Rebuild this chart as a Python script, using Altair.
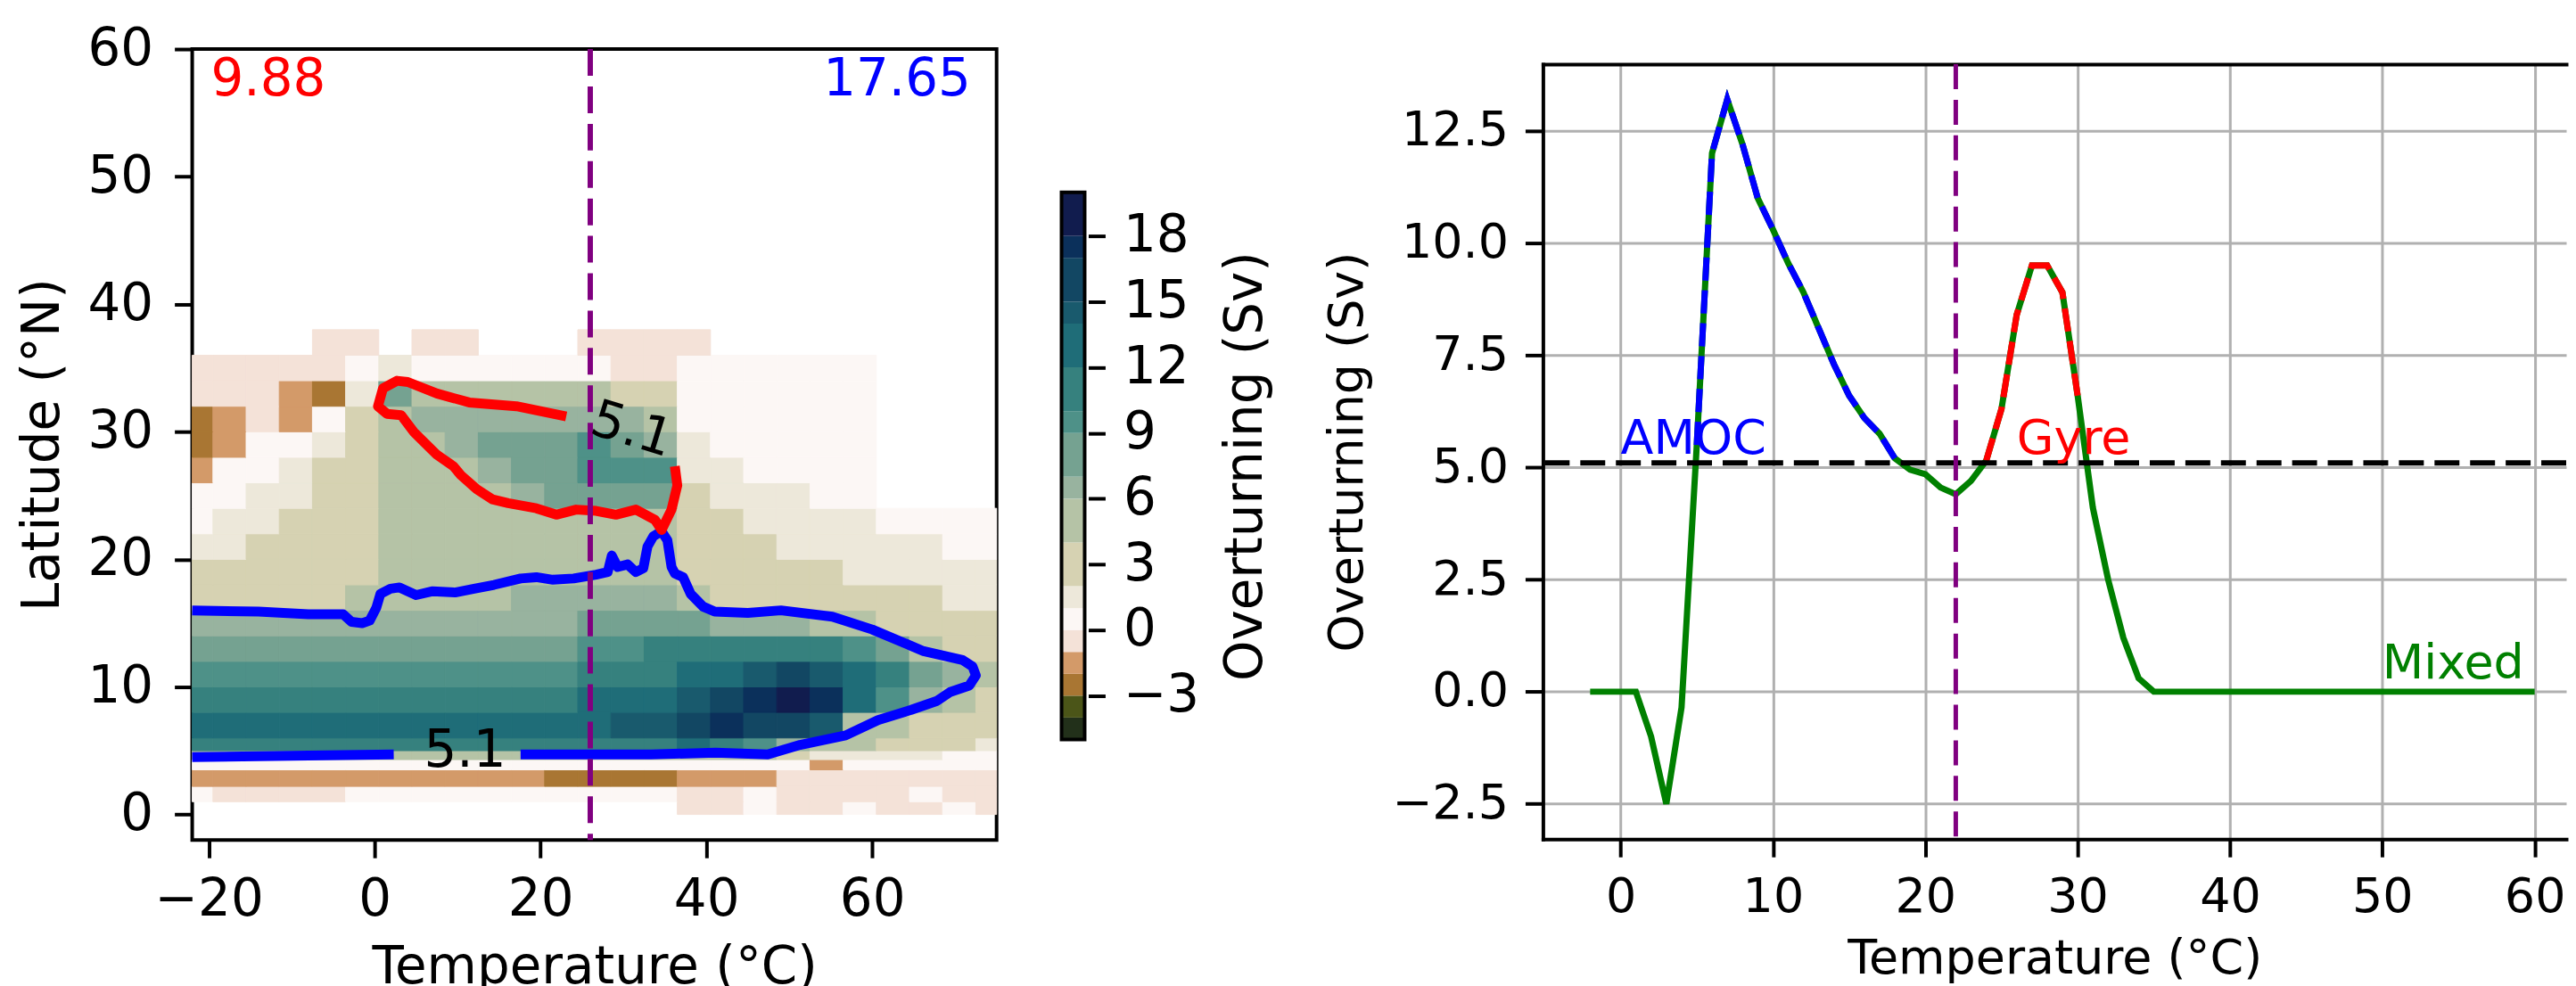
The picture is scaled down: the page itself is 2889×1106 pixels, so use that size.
import altair as alt
import pandas as pd

# ---------------- left panel: overturning field (Sv) on temperature x latitude ----------------
T_EDGES = [-22, -19.5, -15.5, -11.5, -7.5, -3.5, 0.5, 4.5, 8.5, 12.5, 16.5, 20.5, 24.5,
           28.5, 32.5, 36.5, 40.5, 44.5, 48.5, 52.5, 56.5, 60.5, 64.5, 68.5, 72.5, 75]
LAT_EDGES = [0, 1, 2.2, 3.5, 4.3, 5, 6, 8, 10, 12, 14, 16, 18, 20, 22, 24, 26, 28, 30, 32, 34, 36, 38]
N = None
PSI = [
    [N, N, N, N, N, N, N, N, N, N, N, N, N, N, N, -0.5, -0.5, 0.5, -0.5, -0.5, 0.5, -0.5, -0.5, 0.5, -0.5],
    [0.5, -0.5, -0.5, -0.5, -0.5, 0.5, 0.5, 0.5, 0.5, 0.5, 0.5, 0.5, 0.5, 0.5, 0.5, -0.5, -0.5, 0.5, -0.5, -0.5, -0.5, -0.5, 0.5, -0.5, -0.5],
    [-1.5, -1.5, -1.5, -1.5, -1.5, -1.5, -1.5, -1.5, -1.5, -1.5, -1.5, -2.3, -2.3, -2.3, -2.3, -1.5, -1.5, -1.5, -0.5, -0.5, -0.5, -0.5, -0.5, -0.5, -0.5],
    [0.5, 0.5, 0.5, 0.5, 0.5, 0.5, 0.5, 0.5, 0.5, 0.5, 0.5, 0.5, 0.5, 0.5, 0.5, 0.5, 0.5, 0.5, 0.5, -1.5, 0.5, 0.5, 0.5, 0.5, 0.5],
    [4.5, 4.5, 4.5, 4.5, 4.5, 4.5, 4.5, 4.5, 4.5, 4.5, 4.5, 4.5, 4.5, 4.5, 4.5, 4.5, 4.5, 4.5, 2.5, 1.5, 1.5, 1, 1, 0.5, 0.5],
    [11, 11, 11, 11, 11, 11, 11.5, 11.5, 11.5, 11.5, 11.5, 11.5, 11.5, 11.5, 11.5, 12, 11.5, 9, 6, 5, 4, 3, 2.5, 2, 1.5],
    [12.5, 12.5, 12.5, 12.5, 12.5, 12.5, 13, 13, 13, 13, 13, 13, 13.5, 14, 14.5, 16, 17.5, 15.5, 16.5, 14, 5.5, 4, 3.5, 3, 2.5],
    [11.5, 11.5, 11.5, 11.5, 11.5, 11.5, 11.5, 11.5, 11.5, 11.5, 11.5, 11.5, 12.5, 13, 13.5, 14.5, 15.5, 17, 18.5, 17.5, 13, 9, 6.5, 4.5, 3],
    [9.5, 9.5, 9.5, 9.5, 9.5, 9.5, 9.8, 9.8, 9.8, 9.8, 9.8, 9.8, 10.5, 11, 11.5, 12.5, 13, 14, 15, 14, 12, 10, 8, 6, 4],
    [8, 8, 8, 8, 8, 8, 8.5, 8.5, 8.5, 8.5, 8.5, 8.5, 9, 9.5, 10, 10, 10.5, 11, 11, 10.5, 9, 7, 5, 3.5, 3],
    [6.5, 6.5, 6.5, 6.5, 6.5, 6.5, 6.5, 6.5, 6.5, 6.5, 6.5, 6.5, 7, 7, 7.5, 7.5, 6.5, 6.5, 6.5, 5.5, 4.5, 3.5, 3, 2.5, 2.5],
    [3.5, 3.5, 3.5, 3.5, 3.5, 4, 5.5, 5.5, 5.5, 5.5, 6, 6, 6, 6, 6, 4.5, 3, 3, 3, 2.5, 2.5, 2.5, 2, 1.5, 1.5],
    [3, 3, 3, 3, 3.5, 3.5, 4.8, 4.8, 4.8, 5, 5.3, 5.3, 5.3, 5.5, 5.5, 3.5, 3, 3, 2.5, 2.5, 1.5, 1.5, 1.5, 1.5, 1.5],
    [1.5, 1.5, 3, 3, 3, 3.5, 4.8, 4.8, 4.8, 4.8, 4.8, 4.8, 4.8, 5, 5.3, 3, 3, 2.5, 1.5, 1.5, 1.5, 1.5, 1.5, 0.5, 0.5],
    [0.5, 1.5, 1.5, 3, 3, 3.5, 4.8, 4.8, 4.8, 4.8, 4.8, 5, 5, 5.2, 5.5, 3, 2.5, 1.5, 1.5, 1.5, 1.5, 0.5, 0.5, 0.5, 0.5],
    [0.5, 0.5, 1.5, 1.5, 3, 3.5, 4.8, 4.8, 4.8, 5.5, 6, 7, 7.5, 8, 8, 3, 1.5, 1.5, 1.5, 0.5, 0.5, N, N, N, N],
    [-1.5, 0.5, 0.5, 1.5, 3, 3.5, 4.8, 4.8, 5.5, 6.5, 7.5, 8.5, 9.5, 9.5, 9.2, 1.5, 1.5, 0.5, 0.5, 0.5, 0.5, N, N, N, N],
    [-2.5, -1.5, 0.5, 0.5, 1.5, 3.5, 4.8, 5.5, 6.5, 7.5, 8, 8.5, 9.5, 8.5, 6.5, 1.5, 0.5, 0.5, 0.5, 0.5, 0.5, N, N, N, N],
    [-2.5, -1.5, -0.5, -1.5, 0.5, 3, 5.5, 6.5, 6.5, 6.5, 6.5, 6.5, 6.5, 6, 4.5, 0.5, 0.5, 0.5, 0.5, 0.5, 0.5, N, N, N, N],
    [-0.5, -0.5, -0.5, -1.5, -2.5, 1.5, 7, 5.5, 4.5, 4.5, 4, 4, 4, 3.5, 2.5, 0.5, 0.5, 0.5, 0.5, 0.5, 0.5, N, N, N, N],
    [-0.5, -0.5, -0.5, -0.5, -0.5, 0.5, 1.5, 0.5, 0.5, 0.5, 0.5, 0.5, 0.5, -0.5, -0.5, 0.5, 0.5, 0.5, 0.5, 0.5, 0.5, N, N, N, N],
    [N, N, N, N, -0.5, -0.5, N, -0.5, -0.5, N, N, N, -0.5, -0.5, -0.5, -0.5, N, N, N, N, N, N, N, N, N],
]

# colour bar levels and colours
BOUNDS = [-5, -4, -3, -2, -1, 0, 1, 2, 4, 6, 7, 9, 10, 12, 14, 15, 17, 18, 20]
COLORS = ["#22301a", "#4b5518", "#a97633", "#d39a69", "#f4e2d8", "#fcf7f5", "#ede8da", "#d6d2b2",
          "#b5c3a6", "#98b39f", "#75a291", "#4e9188", "#36817e", "#1f6d78", "#195a6d", "#124763",
          "#0b305b", "#111c4e"]
CB_TICKS = [-3, 0, 3, 6, 9, 12, 15, 18]

# 5.1 Sv contours
BLUE_LOW_T = [-22.0, -10.0, 2.3]
BLUE_LOW_L = [4.5, 4.6, 4.7]
BLUE_MAIN_T = [17.6, 33.3, 41.1, 47.4, 51.3, 56.8, 60.7, 64.7, 67.8, 69.4, 71.7, 72.5, 72.1, 70.9, 66.2,
               60.0, 55.2, 49.0, 45.0, 41.0, 39.6, 38.1, 37.2, 36.2, 35.8, 35.3, 34.6, 33.6, 32.9, 32.4,
               31.5, 30.5, 29.3, 28.6, 28.1, 26.7, 24.0, 21.5, 19.5, 17.6, 14.4, 12.0, 9.7, 7.0, 5.0,
               3.0, 1.9, 0.7, 0.2, -0.6, -1.5, -2.8, -3.8, -8.0, -14.0, -22.0]
BLUE_MAIN_L = [4.7, 4.7, 4.85, 4.7, 5.45, 6.2, 7.4, 8.2, 8.9, 9.6, 10.1, 10.9, 11.6, 12.1, 12.8,
               14.5, 15.5, 16.0, 15.8, 15.9, 16.3, 17.3, 18.6, 18.9, 19.4, 21.5, 22.2, 21.8, 21.0, 19.3,
               19.0, 19.6, 19.4, 20.3, 19.0, 18.8, 18.5, 18.4, 18.6, 18.5, 18.0, 17.7, 17.4, 17.5, 17.2,
               17.8, 17.7, 17.3, 16.2, 15.2, 15.0, 15.1, 15.7, 15.7, 15.9, 16.0]
RED_T = [23.1, 17.1, 11.4, 7.5, 4.0, 2.7, 1.0, 0.4, 1.5, 3.2, 4.7, 7.5, 9.5, 10.4, 12.3, 14.2, 16.1,
         19.5, 21.9, 24.3, 26.7, 29.1, 31.5, 33.8, 34.6, 35.8, 36.5, 36.2]
RED_L = [31.2, 32.0, 32.3, 33.0, 33.9, 34.0, 33.4, 32.0, 31.4, 31.3, 30.0, 28.2, 27.3, 26.6, 25.5, 24.7,
         24.4, 24.0, 23.5, 23.9, 23.8, 23.5, 23.9, 23.1, 22.3, 23.9, 25.8, 27.3]
CLABEL_LOW = (10.9, 4.94)
CLABEL_UP = (31.0, 30.1)
CLABEL_TEXT = "5.1"

LEFT_VLINE = 26
LEFT_TXT_RED = ("9.88", -19.75, 56.4)
LEFT_TXT_BLUE = ("17.65", 71.9, 56.4)

# ---------------- right panel: overturning vs temperature ----------------
TEMP = [-2, -1, 0, 1, 2, 3, 4, 5, 6, 7, 8, 9, 10, 11, 12, 13, 14, 15, 16, 17, 18, 19, 20,
        21, 22, 23, 24, 25, 26, 27, 28, 29, 30, 31, 32, 33, 34, 35, 36, 37, 38, 39, 40,
        41, 42, 43, 44, 45, 46, 47, 48, 49, 50, 51, 52, 53, 54, 55, 56, 57, 58, 59, 60]
OVT = [0, 0, 0, 0, -1.0, -2.5, -0.35, 5.5, 12.0, 13.2, 12.2, 11.0, 10.3, 9.55, 8.9, 8.1, 7.3, 6.6,
       6.1, 5.75, 5.2, 4.95, 4.85, 4.55, 4.4, 4.7, 5.15, 6.3, 8.4, 9.5, 9.5, 8.9, 6.6, 4.1, 2.5,
       1.2, 0.3, 0, 0, 0, 0, 0, 0, 0, 0, 0, 0, 0, 0, 0, 0, 0, 0, 0, 0, 0, 0, 0, 0, 0, 0, 0, 0]
AMOC_RANGE = (5, 18)
GYRE_RANGE = (24, 30)
RIGHT_VLINE = 22
THRESH = 5.1
R_LABELS = ["AMOC", "Gyre", "Mixed"]
R_LABEL_T = [0.0, 26.0, 50.0]
R_LABEL_V = [5.3, 5.3, 0.3]
R_LABEL_C = ["blue", "red", "green"]

FONT = "DejaVu Sans"

# ---------------- build tables ----------------
cells = []
for i in range(len(LAT_EDGES) - 1):
    for j in range(len(T_EDGES) - 1):
        v = PSI[i][j]
        if v is None:
            continue
        cells.append(dict(x=T_EDGES[j], x2=T_EDGES[j + 1], y=LAT_EDGES[i], y2=LAT_EDGES[i + 1], psi=v))
cells = pd.DataFrame(cells)

blue_df = pd.concat([
    pd.DataFrame(dict(x=BLUE_LOW_T, y=BLUE_LOW_L, seg="a", i=range(len(BLUE_LOW_T)))),
    pd.DataFrame(dict(x=BLUE_MAIN_T, y=BLUE_MAIN_L, seg="b", i=range(len(BLUE_MAIN_T)))),
])
red_df = pd.DataFrame(dict(x=RED_T, y=RED_L, i=range(len(RED_T))))

xs = alt.Scale(domain=[-22, 75], nice=False, zero=False)
ys = alt.Scale(domain=[-2, 60], nice=False, zero=False)

lx_axis = alt.Axis(values=[-20, 0, 20, 40, 60], title="Temperature (°C)", format="d",
                   labelFont=FONT, titleFont=FONT, labelFontSize=58, titleFontSize=58,
                   titleFontWeight="normal", labelColor="black", titleColor="black",
                   tickSize=20, tickWidth=4, tickColor="black", labelPadding=18, titlePadding=19,
                   domain=False, grid=False)
ly_axis = alt.Axis(values=[0, 10, 20, 30, 40, 50, 60], title="Latitude (°N)", format="d",
                   labelFont=FONT, titleFont=FONT, labelFontSize=58, titleFontSize=58,
                   titleFontWeight="normal", labelColor="black", titleColor="black",
                   tickSize=20, tickWidth=4, tickColor="black", labelPadding=24, titlePadding=21,
                   domain=False, grid=False)


def LX(f):
    return alt.X(f, type="quantitative", scale=xs, axis=lx_axis)


def LY(f):
    return alt.Y(f, type="quantitative", scale=ys, axis=ly_axis)


cscale = alt.Scale(type="threshold", domain=BOUNDS[1:-1], range=COLORS)

heat = alt.Chart(cells).mark_rect(strokeWidth=1).encode(
    x=LX("x"), x2="x2", y=LY("y"), y2="y2",
    color=alt.Color("psi:Q", scale=cscale, legend=None),
    stroke=alt.Stroke("psi:Q", scale=cscale, legend=None),
)
blue_lines = alt.Chart(blue_df).mark_line(color="#0000ff", strokeWidth=11, strokeJoin="round").encode(
    x=LX("x"), y=LY("y"), detail="seg:N", order="i:Q")
red_line = alt.Chart(red_df).mark_line(color="#ff0000", strokeWidth=11, strokeJoin="round").encode(
    x=LX("x"), y=LY("y"), order="i:Q")
vline_l = alt.Chart(pd.DataFrame(dict(x=[LEFT_VLINE]))).mark_rule(
    color="purple", strokeWidth=6, strokeDash=[30, 12]).encode(x=LX("x"))

lab_low = alt.Chart(pd.DataFrame(dict(x=[CLABEL_LOW[0]], y=[CLABEL_LOW[1]], t=[CLABEL_TEXT]))).mark_text(
    font=FONT, fontSize=58, color="black", baseline="middle", align="center").encode(
    x=LX("x"), y=LY("y"), text="t:N")
lab_up = alt.Chart(pd.DataFrame(dict(x=[CLABEL_UP[0]], y=[CLABEL_UP[1]], t=[CLABEL_TEXT]))).mark_text(
    font=FONT, fontSize=58, color="black", baseline="middle", align="center", angle=17).encode(
    x=LX("x"), y=LY("y"), text="t:N")
txt_red = alt.Chart(pd.DataFrame(dict(t=[LEFT_TXT_RED[0]], x=[LEFT_TXT_RED[1]], y=[LEFT_TXT_RED[2]]))).mark_text(
    font=FONT, fontSize=58, color="#ff0000", align="left", baseline="alphabetic").encode(
    x=LX("x"), y=LY("y"), text="t:N")
txt_blue = alt.Chart(pd.DataFrame(dict(t=[LEFT_TXT_BLUE[0]], x=[LEFT_TXT_BLUE[1]], y=[LEFT_TXT_BLUE[2]]))).mark_text(
    font=FONT, fontSize=58, color="#0000ff", align="right", baseline="alphabetic").encode(
    x=LX("x"), y=LY("y"), text="t:N")

field = alt.layer(heat, blue_lines, red_line, vline_l, lab_low, lab_up, txt_red, txt_blue)

# colour bar (independent y scale placed to the right of the field)
cb_df = pd.DataFrame(dict(lo=BOUNDS[:-1], hi=BOUNDS[1:], c=COLORS))
cb_frame = pd.DataFrame(dict(lo=[BOUNDS[0]], hi=[BOUNDS[-1]]))
cb_scale = alt.Scale(domain=[BOUNDS[0], BOUNDS[-1]], range=[776, 161], nice=False, zero=False)
cb_axis = alt.Axis(values=CB_TICKS, orient="right", offset=103, title="Overturning (Sv)", format="d",
                   labelFont=FONT, titleFont=FONT, labelFontSize=58, titleFontSize=58,
                   titleFontWeight="normal", labelColor="black", titleColor="black",
                   titleAngle=270, titleBaseline="top",
                   tickSize=19, tickWidth=4, tickColor="black", labelPadding=20, titlePadding=24,
                   domain=False, grid=False)
cb_rects = alt.Chart(cb_df).mark_rect().encode(
    y=alt.Y("lo:Q", scale=cb_scale, axis=cb_axis), y2="hi",
    x=alt.value(977), x2=alt.value(1003), fill=alt.Fill("c:N", scale=None))
cb_out = alt.Chart(cb_frame).mark_rect(fill=None, stroke="black", strokeWidth=4).encode(
    y=alt.Y("lo:Q", scale=cb_scale, axis=cb_axis), y2="hi",
    x=alt.value(977), x2=alt.value(1003))
colorbar = alt.layer(cb_rects, cb_out)

left = alt.layer(field, colorbar).resolve_scale(y="independent").properties(width=904, height=889)

# ---------------- right panel (its right-hand part runs past the figure edge) ----------------
rdf = pd.DataFrame(dict(x=TEMP, y=OVT))
amoc = rdf[(rdf.x >= AMOC_RANGE[0]) & (rdf.x <= AMOC_RANGE[1])]
gyre = rdf[(rdf.x >= GYRE_RANGE[0]) & (rdf.x <= GYRE_RANGE[1])]

rxs = alt.Scale(domain=[-5.1, 62.07], nice=False, zero=False)
rys = alt.Scale(domain=[-3.285, 13.985], nice=False, zero=False)
rx_axis = alt.Axis(values=[0, 10, 20, 30, 40, 50, 60], title="Temperature (°C)", format="d",
                   labelFont=FONT, titleFont=FONT, labelFontSize=54, titleFontSize=54,
                   titleFontWeight="normal", labelColor="black", titleColor="black",
                   tickSize=20, tickWidth=4, tickColor="black", labelPadding=18, titlePadding=16,
                   domain=True, domainColor="black", domainWidth=4, domainCap="square",
                   grid=True, gridColor="#b0b0b0", gridWidth=3)
rx_top = alt.Axis(orient="top", labels=False, ticks=False, title=None, grid=False,
                  domain=True, domainColor="black", domainWidth=4, domainCap="square")
ry_axis = alt.Axis(values=[-2.5, 0, 2.5, 5, 7.5, 10, 12.5], title="Overturning (Sv)", format=".1f",
                   labelFont=FONT, titleFont=FONT, labelFontSize=54, titleFontSize=54,
                   titleFontWeight="normal", labelColor="black", titleColor="black",
                   tickSize=20, tickWidth=4, tickColor="black", labelPadding=19, titlePadding=22,
                   domain=True, domainColor="black", domainWidth=4, domainCap="square",
                   grid=True, gridColor="#b0b0b0", gridWidth=3)


def RX(f, ax=rx_axis):
    return alt.X(f, type="quantitative", scale=rxs, axis=ax)


def RY(f):
    return alt.Y(f, type="quantitative", scale=rys, axis=ry_axis)


green = alt.Chart(rdf).mark_line(color="green", strokeWidth=7).encode(x=RX("x"), y=RY("y"))
blue_d = alt.Chart(amoc).mark_line(color="blue", strokeWidth=7, strokeDash=[26, 11]).encode(x=RX("x"), y=RY("y"))
red_d = alt.Chart(gyre).mark_line(color="red", strokeWidth=7, strokeDash=[26, 11]).encode(x=RX("x"), y=RY("y"))
hline = alt.Chart(pd.DataFrame(dict(y=[THRESH]))).mark_rule(
    color="black", strokeWidth=6, strokeDash=[28, 12]).encode(y=RY("y"))
vline_r = alt.Chart(pd.DataFrame(dict(x=[RIGHT_VLINE]))).mark_rule(
    color="purple", strokeWidth=5, strokeDash=[28, 12]).encode(x=RX("x"))
rlabels = alt.Chart(pd.DataFrame(dict(x=R_LABEL_T, y=R_LABEL_V, t=R_LABELS, c=R_LABEL_C))).mark_text(
    font=FONT, fontSize=54, align="left", baseline="alphabetic").encode(
    x=RX("x", rx_top), y=RY("y"), text="t:N", color=alt.Color("c:N", scale=None))

right = alt.layer(
    alt.layer(green, blue_d, red_d, hline, vline_r), rlabels
).resolve_axis(x="independent").properties(
    width=1150, height=871, view=alt.ViewBackground(strokeWidth=0, strokeOpacity=0))

# invisible strip that lowers the right panel relative to the left one
spacer = alt.Chart(pd.DataFrame(dict(a=[0]))).mark_point(opacity=0).encode(
    x=alt.value(0), y=alt.value(0)
).properties(width=1150, height=14, view=alt.ViewBackground(strokeWidth=0, strokeOpacity=0))

right_col = alt.vconcat(spacer, right, spacing=0)

chart = alt.hconcat(left, right_col, spacing=55).properties(
    padding={"left": 9, "top": 15, "right": 0, "bottom": 0}
).configure(font=FONT).configure_view(stroke="black", strokeWidth=4)

chart.save("out.html", embed_options={"renderer": "svg", "actions": False})
